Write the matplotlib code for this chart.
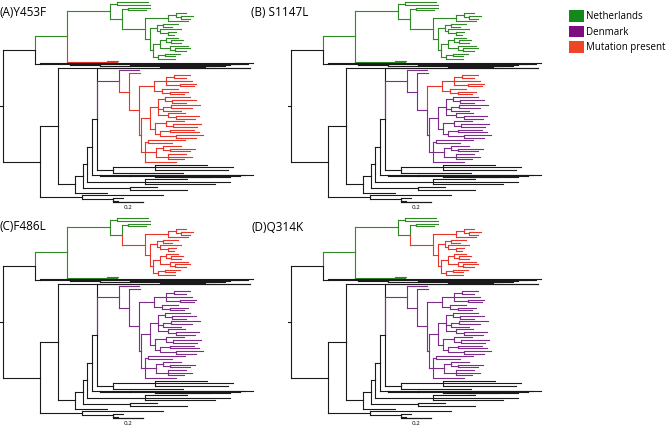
import matplotlib
matplotlib.use("Agg")
import matplotlib.pyplot as plt
from matplotlib.collections import LineCollection
from matplotlib.patches import Patch

plt.rcParams["font.family"] = ["Open Sans", "DejaVu Sans"]

# ---- tree (same topology in all panels), branch lengths in subst./site ----
# leaves named "c" sit in the tightly packed fans of long branches
NL_TOP = "(:0.207,:0.22):0.047"
NL_PAIR = "(:0.147,:0.12):0.04"
NL_G1 = "((:0.067,(:0.08,:0.06):0.033):0.053,:0.133):0.153"
NL_H1 = "((:0.1,:0.06):0.04,(:0.14,(:0.053,:0.04):0.053):0.02):0.047"
NL_H2 = ("(((:0.08,(:0.08,:0.067):0.033):0.04,(:0.12,(:0.1,:0.073):0.033):0.067):0.047,"
         "((:0.1,:0.067):0.047,:0.113):0.033):0.02")
NL_BIG = f"({NL_G1},({NL_H1},{NL_H2}):0.033)NLbig:0.153"
NL_SMALL = "(c:0.073,c:0.06,c:0.067)NLb:0.267"
NL = f"(({NL_TOP},({NL_PAIR},{NL_BIG}):0.08):0.287,{NL_SMALL})NL:0.213"
FAN1 = "(c:1.42,(c:1.133,(c:0.987,(c:0.667,(c:0.433,(c:0.167,c:0.1):0.2):0.2):0.2):0.2):0.2):0.033"

DK_S = ("(((:0.107,:0.08):0.053,:0.173,(:0.107,:0.093):0.093):0.08,"
        "(:0.107,(:0.12,:0.093):0.053):0.053)DKs:0.1")
DK_E1A = ("((:0.167,(:0.16,:0.093):0.047):0.047,((:0.193,:0.14):0.053,:0.12):0.033,"
          "(:0.113,(:0.153,:0.127):0.053):0.067):0.053")
DK_E1B = "((:0.12,(:0.187,:0.16):0.047):0.073,((:0.16,:0.193):0.067,(:0.18,:0.133):0.107):0.033):0.033"
DK_E2 = ("((:0.247,:0.16):0.02,((:0.12,(:0.167,:0.133):0.047):0.047,"
         "(:0.12,:0.16,:0.107):0.08):0.073,:0.207):0.027")
DK = f"(:0.133,(:0.073,({DK_S},(({DK_E1A},{DK_E1B}):0.06,{DK_E2}):0.013):0.067)DKr:0.067)DK:0.147"

LOW_A = "((:0.347,:0.52,:0.487):0.28,:0.467):0.107"
FAN2 = "(c:1.02,(c:0.767,(c:0.567,(c:0.333,c:0.2):0.167):0.167):0.2):0.053"
LADDER = (f"(((((c:1.02,{DK},{LOW_A}):0.033,{FAN2}):0.033,(:0.28,:0.567,:0.467):0.387):0.027,"
          "(:0.18,:0.38):0.313):0.053,:0.213):0.113")
BASAL = "(:0.54,(:0.067,:0.033):0.207):0.28"
TREE = f"(({NL},{FAN1}):0.213,((c:1.28,{LADDER}):0.12,{BASAL}):0.247);"

PANEL_LABELS = ["(A)Y453F", "(B) S1147L", "(C)F486L", "(D)Q314K"]
MUTATION_CLADES = [["NLb", "DKr"], ["DKs"], ["NLbig"], ["NLbig"]]
COUNTRY_CLADES = {"NL": "Netherlands", "DK": "Denmark"}
LEGEND_LABELS = ["Netherlands", "Denmark", "Mutation present"]

LINE_COLORS = {"Netherlands": "#2f8a26", "Denmark": "#7d2c8c",
               "Mutation present": "#e8352a", None: "#1a1a1a"}
BOX_COLORS = {"Netherlands": "#13891b", "Denmark": "#7c0c80",
              "Mutation present": "#ee4526"}


def parse(s):
    pos = 0

    def node():
        nonlocal pos
        kids = []
        if s[pos] == "(":
            pos += 1
            kids.append(node())
            while s[pos] == ",":
                pos += 1
                kids.append(node())
            pos += 1
        start = pos
        while s[pos] not in ":,();":
            pos += 1
        name = s[start:pos]
        length = 0.0
        if s[pos] == ":":
            pos += 1
            start = pos
            while s[pos] not in ",();":
                pos += 1
            length = float(s[start:pos])
        return {"name": name, "len": length, "kids": kids}

    return node()


def layout(n, x0, ycur):
    n["x"] = x0 + n["len"]
    if not n["kids"]:
        w = 0.25 if n["name"] == "c" else 1.0
        n["y"] = ycur + w / 2
        return ycur + w
    for k in n["kids"]:
        ycur = layout(k, n["x"], ycur)
    n["y"] = (n["kids"][0]["y"] + n["kids"][-1]["y"]) / 2
    return ycur


def segments(n, group, red, segs, cols):
    for k in n["kids"]:
        g = group
        if k["name"] in COUNTRY_CLADES:
            g = COUNTRY_CLADES[k["name"]]
        if k["name"] in red:
            g = "Mutation present"
        c = LINE_COLORS[g]
        segs.append([(n["x"], n["y"]), (n["x"], k["y"])])
        cols.append(c)
        segs.append([(n["x"], k["y"]), (k["x"], k["y"])])
        cols.append(c)
        segments(k, g, red, segs, cols)


tree = parse(TREE)
total = layout(tree, 0.0, 0.0)

W, H = 666, 426
fig = plt.figure(figsize=(W / 100, H / 100), dpi=100)

px_per_unit = 150.0
panel_origin = [(0, 0), (288, 0), (0, 216), (288, 216)]
label_pos = [(0, 12), (251, 12), (0, 226), (251, 228)]

for i, (left, top) in enumerate(panel_origin):
    pw, ph = 258, 212
    ax = fig.add_axes([left / W, 1 - (top + ph) / H, pw / W, ph / H])
    ax.set_axis_off()
    slot = 201.0 / total
    ax.set_xlim(-3 / px_per_unit, (pw - 3) / px_per_unit)
    ax.set_ylim((ph - 1) / slot, -1 / slot)
    segs, cols = [], []
    segments(tree, None, MUTATION_CLADES[i], segs, cols)
    segs.append([(-0.02, tree["y"]), (0, tree["y"])])
    cols.append(LINE_COLORS[None])
    ax.add_collection(LineCollection(segs, colors=cols, linewidths=0.8,
                                     capstyle="projecting"))
    # scale bar
    ax.plot([0.733, 0.933], [total + 0.1, total + 0.1], color="#1a1a1a", lw=0.9)
    ax.text(0.833, total + 1.9, "0.2", ha="center", va="center", fontsize=4.5)
    fig.text(label_pos[i][0] / W, 1 - label_pos[i][1] / H, PANEL_LABELS[i],
             ha="left", va="center", fontsize=8.5)

handles = [Patch(facecolor=BOX_COLORS[l], edgecolor="none") for l in LEGEND_LABELS]
fig.legend(handles, LEGEND_LABELS, loc="upper left",
           bbox_to_anchor=(569 / W, 1 - 10 / H), frameon=False, fontsize=7,
           handlelength=1.55, handleheight=1.5, handletextpad=0.2,
           labelspacing=0.35, borderpad=0, borderaxespad=0)

fig.savefig("out.png", dpi=100)
